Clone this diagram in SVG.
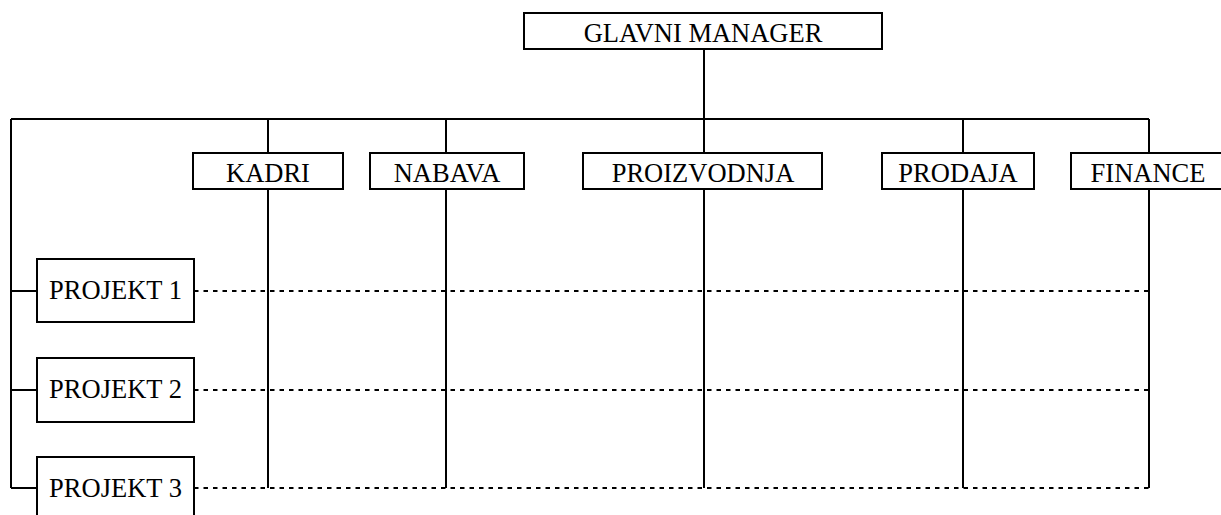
<svg xmlns="http://www.w3.org/2000/svg" width="1221" height="515" viewBox="0 0 1221 515">
<style>
.box{fill:#fff;stroke:#000;stroke-width:2}
.ln{fill:none;stroke:#000;stroke-width:2}
.dot{fill:none;stroke:#000;stroke-width:2;stroke-dasharray:4.5 5}
text{font-family:"Liberation Serif","Times New Roman",serif;font-size:26.5px;fill:#000;text-anchor:middle}
</style>
<rect width="1221" height="515" fill="#fff"/>
<g id="connectors">
<path class="ln" d="M704 49V153M11 119H1149M11 119V488M268 119V488M446 119V488M704 189V488M963 119V488M1149 119V488M11 291H37M11 390H37M11 488H37"/>
<path class="dot" d="M194 291H1149M194 390H1149M194 488H1149"/>
</g>
<g id="glavni"><rect class="box" x="524" y="13" width="358" height="36"/><text x="703" y="42">GLAVNI MANAGER</text></g>
<g id="kadri"><rect class="box" x="193" y="153" width="150" height="36"/><text x="268" y="182">KADRI</text></g>
<g id="nabava"><rect class="box" x="370" y="153" width="154" height="36"/><text x="447" y="182">NABAVA</text></g>
<g id="proizvodnja"><rect class="box" x="583" y="153" width="239" height="36"/><text x="703" y="182">PROIZVODNJA</text></g>
<g id="prodaja"><rect class="box" x="882" y="153" width="152" height="36"/><text x="958" y="182">PRODAJA</text></g>
<g id="finance"><rect class="box" x="1071" y="153" width="156" height="36"/><text x="1148" y="182">FINANCE</text></g>
<g id="projekt1"><rect class="box" x="37" y="259" width="157" height="63"/><text x="115.5" y="299">PROJEKT 1</text></g>
<g id="projekt2"><rect class="box" x="37" y="358" width="157" height="64"/><text x="115.5" y="398">PROJEKT 2</text></g>
<g id="projekt3"><rect class="box" x="37" y="457" width="157" height="64"/><text x="115.5" y="497">PROJEKT 3</text></g>
</svg>
